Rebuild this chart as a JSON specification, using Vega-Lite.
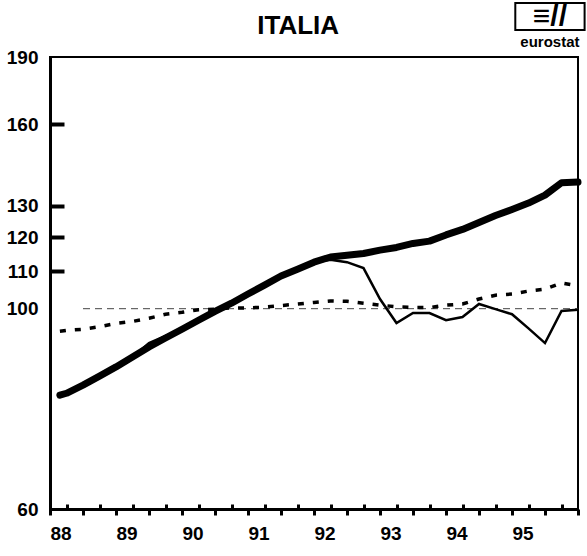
{
  "$schema": "https://vega.github.io/schema/vega-lite/v6.json",
  "width": 528,
  "height": 452,
  "autosize": {"type": "none"},
  "padding": {"left": 50, "top": 57, "right": 9, "bottom": 47},
  "background": "white",
  "config": {
    "view": {"stroke": "black", "strokeWidth": 2},
    "font": "Liberation Sans"
  },
  "datasets": {
    "series": [
      {"t": 88.15, "v": 80.2, "s": "A"}, {"t": 88.25, "v": 80.6, "s": "A"}, {"t": 88.5, "v": 82.3, "s": "A"}, {"t": 88.75, "v": 84.2, "s": "A"},
      {"t": 89.0, "v": 86.2, "s": "A"}, {"t": 89.25, "v": 88.4, "s": "A"}, {"t": 89.5, "v": 90.7, "s": "A"}, {"t": 89.75, "v": 92.8, "s": "A"},
      {"t": 90.0, "v": 94.9, "s": "A"}, {"t": 90.25, "v": 97.1, "s": "A"}, {"t": 90.5, "v": 99.3, "s": "A"}, {"t": 90.75, "v": 101.4, "s": "A"},
      {"t": 91.0, "v": 103.8, "s": "A"}, {"t": 91.25, "v": 106.2, "s": "A"}, {"t": 91.5, "v": 108.7, "s": "A"}, {"t": 91.75, "v": 110.6, "s": "A"},
      {"t": 92.0, "v": 112.6, "s": "A"}, {"t": 92.25, "v": 114.1, "s": "A"}, {"t": 92.5, "v": 114.6, "s": "A"}, {"t": 92.75, "v": 115.1, "s": "A"},
      {"t": 93.0, "v": 116.1, "s": "A"}, {"t": 93.25, "v": 116.9, "s": "A"}, {"t": 93.5, "v": 118.1, "s": "A"}, {"t": 93.75, "v": 118.8, "s": "A"},
      {"t": 94.0, "v": 120.7, "s": "A"}, {"t": 94.25, "v": 122.4, "s": "A"}, {"t": 94.5, "v": 124.6, "s": "A"}, {"t": 94.75, "v": 126.8, "s": "A"},
      {"t": 95.0, "v": 128.8, "s": "A"}, {"t": 95.25, "v": 130.9, "s": "A"}, {"t": 95.5, "v": 133.6, "s": "A"}, {"t": 95.75, "v": 137.9, "s": "A"},
      {"t": 96.0, "v": 138.1, "s": "A"},

      {"t": 88.15, "v": 80.2, "s": "B"}, {"t": 88.25, "v": 80.6, "s": "B"}, {"t": 88.5, "v": 82.3, "s": "B"}, {"t": 88.75, "v": 84.2, "s": "B"},
      {"t": 89.0, "v": 86.2, "s": "B"}, {"t": 89.25, "v": 88.4, "s": "B"}, {"t": 89.5, "v": 91.6, "s": "B"}, {"t": 89.75, "v": 93.3, "s": "B"},
      {"t": 90.0, "v": 94.9, "s": "B"}, {"t": 90.25, "v": 97.1, "s": "B"}, {"t": 90.5, "v": 99.3, "s": "B"}, {"t": 90.75, "v": 101.4, "s": "B"},
      {"t": 91.0, "v": 103.8, "s": "B"}, {"t": 91.25, "v": 106.2, "s": "B"}, {"t": 91.5, "v": 108.7, "s": "B"}, {"t": 91.75, "v": 110.6, "s": "B"},
      {"t": 92.0, "v": 112.6, "s": "B"}, {"t": 92.25, "v": 113.3, "s": "B"}, {"t": 92.5, "v": 112.6, "s": "B"}, {"t": 92.75, "v": 110.9, "s": "B"},
      {"t": 93.0, "v": 102.5, "s": "B"}, {"t": 93.25, "v": 96.4, "s": "B"}, {"t": 93.5, "v": 98.9, "s": "B"}, {"t": 93.75, "v": 98.9, "s": "B"},
      {"t": 94.0, "v": 97.1, "s": "B"}, {"t": 94.25, "v": 97.9, "s": "B"}, {"t": 94.5, "v": 101.2, "s": "B"}, {"t": 94.75, "v": 99.9, "s": "B"},
      {"t": 95.0, "v": 98.6, "s": "B"}, {"t": 95.25, "v": 95.1, "s": "B"}, {"t": 95.5, "v": 91.6, "s": "B"}, {"t": 95.75, "v": 99.4, "s": "B"},
      {"t": 96.0, "v": 99.7, "s": "B"},

      {"t": 88.15, "v": 94.4, "s": "C"}, {"t": 88.25, "v": 94.6, "s": "C"}, {"t": 88.5, "v": 94.9, "s": "C"}, {"t": 88.75, "v": 95.5, "s": "C"},
      {"t": 89.0, "v": 96.3, "s": "C"}, {"t": 89.25, "v": 96.8, "s": "C"}, {"t": 89.5, "v": 97.6, "s": "C"}, {"t": 89.75, "v": 98.6, "s": "C"},
      {"t": 90.0, "v": 99.1, "s": "C"}, {"t": 90.25, "v": 99.7, "s": "C"}, {"t": 90.5, "v": 99.9, "s": "C"}, {"t": 90.75, "v": 100.2, "s": "C"},
      {"t": 91.0, "v": 100.2, "s": "C"}, {"t": 91.25, "v": 100.4, "s": "C"}, {"t": 91.5, "v": 100.8, "s": "C"}, {"t": 91.75, "v": 101.2, "s": "C"},
      {"t": 92.0, "v": 101.6, "s": "C"}, {"t": 92.25, "v": 102.0, "s": "C"}, {"t": 92.5, "v": 101.9, "s": "C"}, {"t": 92.75, "v": 101.4, "s": "C"},
      {"t": 93.0, "v": 100.9, "s": "C"}, {"t": 93.25, "v": 100.5, "s": "C"}, {"t": 93.5, "v": 100.3, "s": "C"}, {"t": 93.75, "v": 100.3, "s": "C"},
      {"t": 94.0, "v": 100.9, "s": "C"}, {"t": 94.25, "v": 101.2, "s": "C"}, {"t": 94.5, "v": 102.5, "s": "C"}, {"t": 94.75, "v": 103.5, "s": "C"},
      {"t": 95.0, "v": 103.8, "s": "C"}, {"t": 95.25, "v": 104.6, "s": "C"}, {"t": 95.5, "v": 105.1, "s": "C"}, {"t": 95.75, "v": 106.8, "s": "C"},
      {"t": 96.0, "v": 106.0, "s": "C"}
    ]
  },
  "resolve": {"axis": {"x": "independent", "y": "independent"}},
  "layer": [
    {
      "data": {"values": [{"x": 88.5, "x2": 96, "y": 100}]},
      "mark": {"type": "rule", "color": "#444", "strokeWidth": 1, "strokeDash": [7, 5]},
      "encoding": {
        "x": {"field": "x", "type": "quantitative", "scale": {"domain": [88, 96], "nice": false, "zero": false}, "axis": null},
        "x2": {"field": "x2"},
        "y": {"field": "y", "type": "quantitative", "scale": {"type": "log", "domain": [60, 190], "nice": false, "zero": false}, "axis": null}
      }
    },
    {
      "data": {"name": "series"},
      "transform": [{"filter": "datum.s === 'C'"}],
      "mark": {"type": "line", "color": "black", "strokeWidth": 3.5, "strokeDash": [6, 9]},
      "encoding": {
        "x": {"field": "t", "type": "quantitative", "axis": null},
        "y": {"field": "v", "type": "quantitative", "axis": null}
      }
    },
    {
      "data": {"name": "series"},
      "transform": [{"filter": "datum.s === 'B'"}],
      "mark": {"type": "line", "color": "black", "strokeWidth": 2.5, "strokeJoin": "miter"},
      "encoding": {
        "x": {"field": "t", "type": "quantitative",
          "axis": {"orient": "bottom", "values": [88.25, 88.75, 89.25, 89.75, 90.25, 90.75, 91.25, 91.75, 92.25, 92.75, 93.25, 93.75, 94.25, 94.75, 95.25, 95.75],
            "tickSize": -5, "tickWidth": 3, "tickColor": "black", "labels": false, "domain": false, "grid": false, "title": null}},
        "y": {"field": "v", "type": "quantitative",
          "axis": {"orient": "left", "values": [110, 120, 130, 160], "tickSize": -14, "tickWidth": 4, "tickColor": "black", "labels": false, "domain": false, "grid": false, "title": null}}
      }
    },
    {
      "data": {"name": "series"},
      "transform": [{"filter": "datum.s === 'A'"}],
      "mark": {"type": "line", "color": "black", "strokeWidth": 7, "strokeCap": "round", "strokeJoin": "round"},
      "encoding": {
        "x": {"field": "t", "type": "quantitative",
          "axis": {"orient": "bottom", "values": [88, 88.5, 89, 89.5, 90, 90.5, 91, 91.5, 92, 92.5, 93, 93.5, 94, 94.5, 95, 95.5, 96],
            "tickSize": 6, "tickWidth": 3, "tickColor": "black", "domainWidth": 3, "domainColor": "black",
            "labelExpr": "datum.value % 1 === 0 && datum.value < 96 ? format(datum.value, 'd') : ''",
            "labelAlign": "left", "labelDx": -1, "labelFont": "Liberation Sans", "labelFontWeight": "bold", "labelFontSize": 19,
            "labelColor": "black", "labelPadding": 9, "labelOverlap": false, "grid": false, "title": null}},
        "y": {"field": "v", "type": "quantitative",
          "axis": {"orient": "left", "values": [60, 100, 110, 120, 130, 160, 190], "tickSize": 0, "domainWidth": 3, "domainColor": "black",
            "labelExpr": "format(datum.value, 'd')", "labelFont": "Liberation Sans", "labelFontWeight": "bold", "labelFontSize": 19,
            "labelColor": "black", "labelPadding": 12, "labelOverlap": false, "grid": false, "title": null}}
      }
    },
    {
      "data": {"values": [{"x": 95.05, "x2": 96.1, "y": 218, "y2": 203.5}]},
      "mark": {"type": "rect", "fill": null, "fillOpacity": 0, "stroke": "black", "strokeWidth": 2},
      "encoding": {
        "x": {"field": "x", "type": "quantitative", "axis": null},
        "x2": {"field": "x2"},
        "y": {"field": "y", "type": "quantitative", "axis": null},
        "y2": {"field": "y2"}
      }
    },
    {
      "data": {"values": [
        {"x": 91.76, "y": 205.4, "label": "ITALIA", "sz": 26},
        {"x": 95.575, "y": 210.6, "label": "≡//", "sz": 30},
        {"x": 95.575, "y": 197.3, "label": "eurostat", "sz": 15}
      ]},
      "mark": {"type": "text", "font": "Liberation Sans", "fontWeight": "bold", "color": "black", "baseline": "middle", "align": "center"},
      "encoding": {
        "x": {"field": "x", "type": "quantitative", "axis": null},
        "y": {"field": "y", "type": "quantitative", "axis": null},
        "text": {"field": "label"},
        "size": {"field": "sz", "type": "quantitative", "scale": null}
      }
    }
  ]
}
